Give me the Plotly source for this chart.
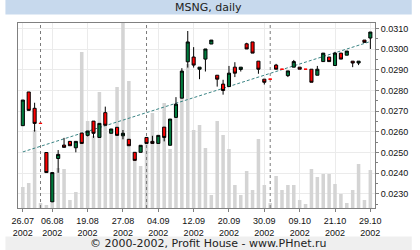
import plotly.graph_objects as go

# ---------------- data ----------------
dates = ["26.07.2002", "29.07.2002", "31.07.2002", "01.08.2002", "05.08.2002", "06.08.2002",
         "07.08.2002", "09.08.2002", "12.08.2002", "14.08.2002", "16.08.2002", "19.08.2002",
         "20.08.2002", "21.08.2002", "22.08.2002", "23.08.2002", "26.08.2002", "27.08.2002",
         "28.08.2002", "29.08.2002", "30.08.2002", "02.09.2002", "03.09.2002", "04.09.2002",
         "05.09.2002", "06.09.2002", "09.09.2002", "10.09.2002", "11.09.2002", "12.09.2002",
         "13.09.2002", "16.09.2002", "17.09.2002", "18.09.2002", "19.09.2002", "20.09.2002",
         "23.09.2002", "24.09.2002", "25.09.2002", "26.09.2002", "27.09.2002", "30.09.2002",
         "01.10.2002", "02.10.2002", "03.10.2002", "07.10.2002", "08.10.2002", "09.10.2002",
         "10.10.2002", "11.10.2002", "14.10.2002", "16.10.2002", "18.10.2002", "21.10.2002",
         "22.10.2002", "23.10.2002", "24.10.2002", "25.10.2002", "28.10.2002", "29.10.2002"]

open_ = [0.02630, 0.02793, 0.02714, 0.02641, 0.02500, 0.02261, 0.02471, 0.02536, 0.02554, 0.02523,
         0.02594, 0.02583, 0.02652, 0.02573, 0.02693, 0.02593, 0.02622, 0.02581, 0.02564, 0.02501,
         0.02501, 0.02573, 0.02554, 0.02544, 0.02623, 0.02535, 0.02670, 0.02763, 0.02939, 0.02962,
         0.02903, 0.02952, 0.03025, 0.02874, 0.02831, 0.02819, 0.02913, 0.02902, 0.03026, 0.03035,
         0.02942, 0.02855, 0.02855, 0.02923, 0.02903, 0.02872, 0.02913, 0.02913, 0.02903, 0.02903,
         0.02874, 0.02940, 0.02962, 0.02921, 0.02981, 0.02971, 0.02942, 0.02933, 0.03044, 0.03054]
high = [0.02754, 0.02793, 0.02741, 0.02641, 0.02500, 0.02403, 0.02512, 0.02571, 0.02554, 0.02554,
        0.02594, 0.02604, 0.02652, 0.02641, 0.02722, 0.02614, 0.02622, 0.02609, 0.02564, 0.02501,
        0.02535, 0.02573, 0.02581, 0.02583, 0.02623, 0.02662, 0.02768, 0.02908, 0.03088, 0.03010,
        0.02913, 0.03001, 0.03044, 0.02874, 0.02852, 0.02919, 0.02937, 0.02913, 0.03031, 0.03035,
        0.02942, 0.02855, 0.02855, 0.02929, 0.02903, 0.02895, 0.02948, 0.02913, 0.02903, 0.02903,
        0.02919, 0.02981, 0.02962, 0.02987, 0.02981, 0.02991, 0.02942, 0.02942, 0.03044, 0.03083]
low = [0.02630, 0.02704, 0.02601, 0.02641, 0.02403, 0.02261, 0.02402, 0.02525, 0.02533, 0.02501,
       0.02544, 0.02578, 0.02571, 0.02573, 0.02632, 0.02593, 0.02583, 0.02564, 0.02533, 0.02462,
       0.02501, 0.02544, 0.02544, 0.02544, 0.02554, 0.02535, 0.02670, 0.02763, 0.02911, 0.02911,
       0.02855, 0.02892, 0.03025, 0.02819, 0.02780, 0.02819, 0.02865, 0.02892, 0.03001, 0.02981,
       0.02881, 0.02829, 0.02855, 0.02903, 0.02903, 0.02865, 0.02913, 0.02903, 0.02903, 0.02840,
       0.02874, 0.02940, 0.02940, 0.02921, 0.02952, 0.02971, 0.02913, 0.02923, 0.03033, 0.03001]
close = [0.02754, 0.02704, 0.02641, 0.02641, 0.02403, 0.02403, 0.02491, 0.02525, 0.02533, 0.02554,
         0.02544, 0.02604, 0.02593, 0.02641, 0.02632, 0.02614, 0.02583, 0.02593, 0.02533, 0.02462,
         0.02535, 0.02544, 0.02544, 0.02583, 0.02573, 0.02662, 0.02734, 0.02894, 0.03035, 0.02923,
         0.02913, 0.03001, 0.03044, 0.02855, 0.02800, 0.02884, 0.02884, 0.02913, 0.03001, 0.02981,
         0.02903, 0.02840, 0.02855, 0.02903, 0.02903, 0.02895, 0.02940, 0.02903, 0.02903, 0.02840,
         0.02903, 0.02981, 0.02940, 0.02981, 0.02952, 0.02991, 0.02933, 0.02942, 0.03033, 0.03083]

# traded volume (relative units)
volume = [21, 25, 78, 5, 3, 5, 40, 39, 8, 16,
          156, 87, 72, 116, 84, 76, 121, 200, 127, 50,
          42, 68, 95, 68, 105, 59, 90, 110, 144, 78,
          83, 60, 13, 87, 73, 59, 23, 13, 37, 18,
          69, 23, 5, 32, 18, 23, 23, 8, 4, 39,
          31, 34, 34, 24, 14, 5, 18, 44, 8, 38]

trend_x = [0, 59]
trend_y = [0.02503, 0.03037]

price_ticks = [0.023, 0.024, 0.025, 0.026, 0.027, 0.028, 0.029, 0.030, 0.031]
label_idx = [0, 5, 11, 17, 23, 29, 35, 41, 47, 53, 59]
label_text = [dates[i][:5] + "<br>" + dates[i][6:] for i in label_idx]

idx = list(range(len(dates)))
month_starts = [i for i in idx[1:] if dates[i][3:5] != dates[i - 1][3:5]]

# ---------------- layout geometry ----------------
W, H = 420, 250
ML, MR, MT, MB = 13, 38, 23, 42
PW, PH = W - ML - MR, H - MT - MB
VOL_MAX = 185
PRICE_RANGE = [0.022316, 0.031267]
X_RANGE = [-0.82, 59.79]


def px_x(p):
    return (p - ML) / PW


def px_y(p):
    return (H - MB - p) / PH


flat = [o == c for o, c in zip(open_, close)]

fig = go.Figure()

# volume bars (main subplot)
fig.add_trace(go.Bar(x=idx, y=volume, width=0.6, marker=dict(color="#d4d4d4", line=dict(width=0)),
                     xaxis="x", yaxis="y", hoverinfo="skip"))

# month separators
sx, sy = [], []
for m in month_starts:
    sx += [m, m, None]
    sy += [0, VOL_MAX, None]
fig.add_trace(go.Scatter(x=sx, y=sy, mode="lines", xaxis="x", yaxis="y",
                         line=dict(color="#7a7a7a", width=1, dash="3px,3px"), hoverinfo="skip"))

# trend line
fig.add_trace(go.Scatter(x=trend_x, y=trend_y, mode="lines", xaxis="x", yaxis="y2",
                         line=dict(color="#3b8585", width=1, dash="3px,2px"), hoverinfo="skip"))

# candles
nx = [i for i in idx if not flat[i]]
fig.add_trace(go.Candlestick(
    x=nx, open=[open_[i] for i in nx], high=[high[i] for i in nx],
    low=[low[i] for i in nx], close=[close[i] for i in nx],
    xaxis="x", yaxis="y3", whiskerwidth=0,
    increasing=dict(line=dict(color="#000000", width=1), fillcolor="#007a3d"),
    decreasing=dict(line=dict(color="#000000", width=1), fillcolor="#ff0000"),
    hoverinfo="skip"))
fx = [i for i in idx if flat[i]]
fig.add_trace(go.Candlestick(
    x=fx, open=[open_[i] for i in fx], high=[high[i] for i in fx],
    low=[low[i] for i in fx], close=[close[i] for i in fx],
    xaxis="x", yaxis="y3", whiskerwidth=0,
    increasing=dict(line=dict(color="#ff0000", width=1), fillcolor="#ff0000"),
    decreasing=dict(line=dict(color="#ff0000", width=1), fillcolor="#ff0000"),
    hoverinfo="skip"))

tickfont = dict(family="Liberation Sans, Arial", size=9, color="#111111")

fig.update_layout(
    width=W, height=H, margin=dict(l=ML, r=MR, t=MT, b=MB, pad=0),
    paper_bgcolor="#ffffff", plot_bgcolor="#ffffff",
    showlegend=False, boxgap=0.25,
    xaxis=dict(range=X_RANGE, tickmode="array", tickvals=label_idx, ticktext=label_text,
               ticks="outside", ticklen=3, tickcolor="#808080", tickfont=tickfont,
               ticklabelstandoff=1,
               showline=True, linecolor="#808080", linewidth=1, mirror=True,
               showgrid=True, gridcolor="#ebebeb", gridwidth=1, zeroline=False,
               rangeslider=dict(visible=False), fixedrange=True),
    yaxis=dict(range=[0, VOL_MAX], visible=False, fixedrange=True),
    yaxis2=dict(range=PRICE_RANGE, overlaying="y", side="right", tickmode="array",
                tickvals=price_ticks, tickformat=".4f", ticks="outside", ticklen=3,
                tickcolor="#808080", tickfont=tickfont,
                minor=dict(ticks="outside", ticklen=2, dtick=0.0005, tickcolor="#808080", showgrid=False),
                showline=True, linecolor="#808080", linewidth=1, mirror=True,
                showgrid=True, gridcolor="#ebebeb", gridwidth=1, zeroline=False, fixedrange=True),
    yaxis3=dict(range=PRICE_RANGE, overlaying="y", visible=False, fixedrange=True),
    shapes=[
        dict(type="rect", xref="paper", yref="paper", x0=px_x(0), x1=px_x(W), y0=px_y(14.5), y1=px_y(0),
             fillcolor="#c7d9ed", line=dict(width=0), layer="below"),
        dict(type="rect", xref="paper", yref="paper", x0=px_x(0), x1=px_x(W), y0=px_y(H), y1=px_y(236.5),
             fillcolor="#efefef", line=dict(width=0), layer="below"),
    ],
    annotations=[
        dict(text="MSNG, daily", xref="paper", yref="paper", x=px_x(210), y=px_y(7.5),
             xanchor="center", yanchor="middle", showarrow=False,
             font=dict(family="DejaVu Sans", size=11, color="#222222")),
        dict(text="© 2000-2002, Profit House - www.PHnet.ru", xref="paper", yref="paper",
             x=px_x(210), y=px_y(243.5), xanchor="center", yanchor="middle", showarrow=False,
             font=dict(family="DejaVu Sans", size=11, color="#222222")),
    ],
)

fig.write_html("out.html", config=dict(displayModeBar=False, staticPlot=True))
